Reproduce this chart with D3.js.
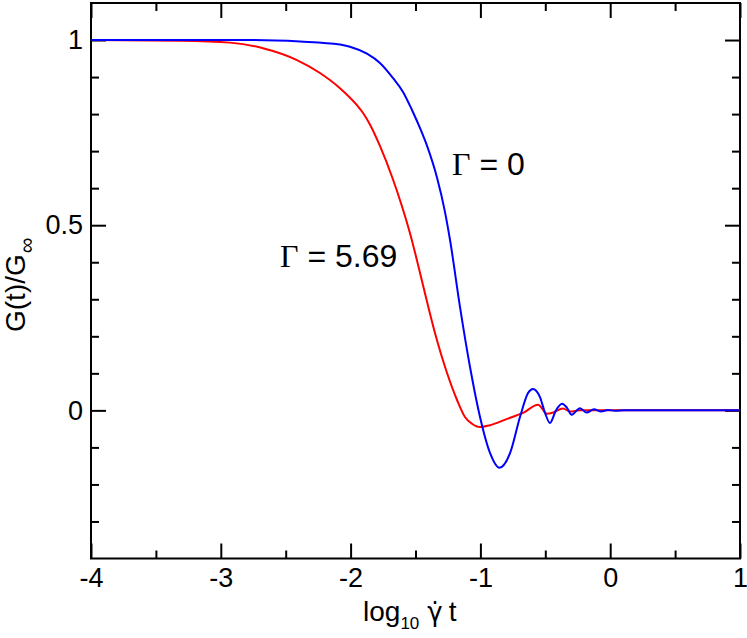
<!DOCTYPE html>
<html>
<head>
<meta charset="utf-8">
<script src="https://cdn.jsdelivr.net/npm/d3@7"></script>
<style>
  body { margin: 0; background: #fff; }
  svg { display: block; }
  text { font-family: "Liberation Sans", Arial, Helvetica, sans-serif; fill: #000; }
</style>
</head>
<body>
<script>
const width = 747;
const height = 638;

// log10(gamma-dot t) and G(t)/G_inf
const blueX = [-4, -2.775, -2.39, -2.082, -2.005, -1.874, -1.774, -1.673, -1.596, -1.527,
  -1.465, -1.411, -1.334, -1.273, -1.234, -1.157, -1.08, -1.003, -0.926, -0.854,
  -0.771, -0.695, -0.633, -0.595, -0.541, -0.502, -0.464, -0.418, -0.371, -0.333,
  -0.297, -0.233, -0.181, -0.125, -0.071, -0.017, 0.037, 0.114, 1];
const blueY = [1, 1, 0.996, 0.988, 0.982, 0.963, 0.938, 0.897, 0.86, 0.811,
  0.762, 0.714, 0.628, 0.536, 0.46, 0.279, 0.117, -0.018, -0.115, -0.155,
  -0.115, -0.018, 0.047, 0.058, 0.036, -0.007, -0.034, 0, 0.018, 0.007,
  -0.012, 0.006, -0.006, 0.003, -0.003, 0.001, -0.001, 0, 0];

const redX = [-4, -3.314, -2.929, -2.675, -2.413, -2.236, -2.082, -1.951, -1.904, -1.851,
  -1.774, -1.674, -1.605, -1.543, -1.497, -1.443, -1.35, -1.257, -1.18, -1.119,
  -1.065, -1.003, -0.926, -0.795, -0.672, -0.556, -0.487, -0.441, -0.364, -0.31,
  -0.233, 1];
const redY = [1, 0.998, 0.993, 0.978, 0.946, 0.911, 0.87, 0.824, 0.803, 0.772,
  0.714, 0.624, 0.552, 0.479, 0.417, 0.339, 0.209, 0.101, 0.028, -0.018,
  -0.036, -0.045, -0.04, -0.023, -0.007, 0.015, -0.009, -0.006, 0.005, -0.003,
  0, 0];

const xMajor = [-4, -3, -2, -1, 0, 1];
const xMinor = [-3.5, -2.5, -1.5, -0.5, 0.5];
const yMajor = [0, 0.5, 1];
const yMinor = [-0.3, -0.2, -0.1, 0.1, 0.2, 0.3, 0.4, 0.6, 0.7, 0.8, 0.9];
const yLabels = { 0: "0", 0.5: "0.5", 1: "1" };

const margin = { left: 91, right: 7, top: 3, bottom: 79.5 };

const svg = d3.select("body").append("svg")
  .attr("width", width)
  .attr("height", height);

const x = d3.scaleLinear().domain([-4, 1]).range([margin.left, width - margin.right]);
const y = d3.scaleLinear().domain([-0.4, 1.1]).range([height - margin.bottom, margin.top]);

// ticks on all four sides, pointing inward
function styleAxis(g) {
  g.select(".domain").remove();
  g.selectAll(".tick line").attr("stroke", "#000").attr("stroke-width", 2);
  g.selectAll(".tick text").style("font-size", "27px").attr("fill", "#000");
}

function addAxis(axis, tx, ty) {
  svg.append("g").attr("transform", `translate(${tx},${ty})`).call(axis).call(styleAxis);
}

addAxis(d3.axisBottom(x).tickValues(xMajor).tickSize(-15).tickPadding(9)
  .tickFormat(d => String(d)), 0, y(-0.4));
addAxis(d3.axisBottom(x).tickValues(xMinor).tickSize(-8).tickFormat(""), 0, y(-0.4));
addAxis(d3.axisTop(x).tickValues(xMajor).tickSize(-15).tickFormat(""), 0, y(1.1));
addAxis(d3.axisTop(x).tickValues(xMinor).tickSize(-8).tickFormat(""), 0, y(1.1));

addAxis(d3.axisLeft(y).tickValues(yMajor).tickSize(-15).tickPadding(8)
  .tickFormat(d => yLabels[d]), x(-4), 0);
addAxis(d3.axisLeft(y).tickValues(yMinor).tickSize(-8).tickFormat(""), x(-4), 0);
addAxis(d3.axisRight(y).tickValues(yMajor).tickSize(-15).tickFormat(""), x(1), 0);
addAxis(d3.axisRight(y).tickValues(yMinor).tickSize(-8).tickFormat(""), x(1), 0);

// frame
svg.append("rect")
  .attr("x", x(-4)).attr("y", y(1.1))
  .attr("width", x(1) - x(-4)).attr("height", y(-0.4) - y(1.1))
  .attr("fill", "none").attr("stroke", "#000").attr("stroke-width", 2);

const line = d3.line()
  .x(d => x(d[0]))
  .y(d => y(d[1]))
  .curve(d3.curveMonotoneX);

svg.append("path")
  .datum(d3.zip(redX, redY))
  .attr("d", line)
  .attr("fill", "none").attr("stroke", "#ff0000").attr("stroke-width", 2);

svg.append("path")
  .datum(d3.zip(blueX, blueY))
  .attr("d", line)
  .attr("fill", "none").attr("stroke", "#0000ff").attr("stroke-width", 2);

// curve labels
function gammaLabel(px, py, val) {
  const t = svg.append("text").attr("x", px).attr("y", py).style("font-size", "32px");
  t.append("tspan").text("Γ").style("font-family", "'Liberation Serif', 'Times New Roman', serif");
  t.append("tspan").text(" = " + val);
}
gammaLabel(452, 175, "0");
gammaLabel(280, 267, "5.69");

// x title, gamma with a dot on top
const xt = svg.append("text").attr("x", 363).attr("y", 621).style("font-size", "28px");
xt.append("tspan").text("log");
xt.append("tspan").text("10").style("font-size", "17px").attr("dy", 8);
xt.append("tspan").text("γ\u0307").attr("dx", 8).attr("dy", -8)
  .style("font-family", "'DejaVu Sans', sans-serif").style("font-size", "26px");
xt.append("tspan").text("t").attr("dx", 6);

// y title
const yt = svg.append("text")
  .attr("transform", "translate(25,332) rotate(-90)")
  .style("font-size", "28px");
yt.append("tspan").text("G(t)/G");
yt.append("tspan").text("∞").style("font-size", "22px").attr("dy", 9).attr("dx", 1);
</script>
</body>
</html>
